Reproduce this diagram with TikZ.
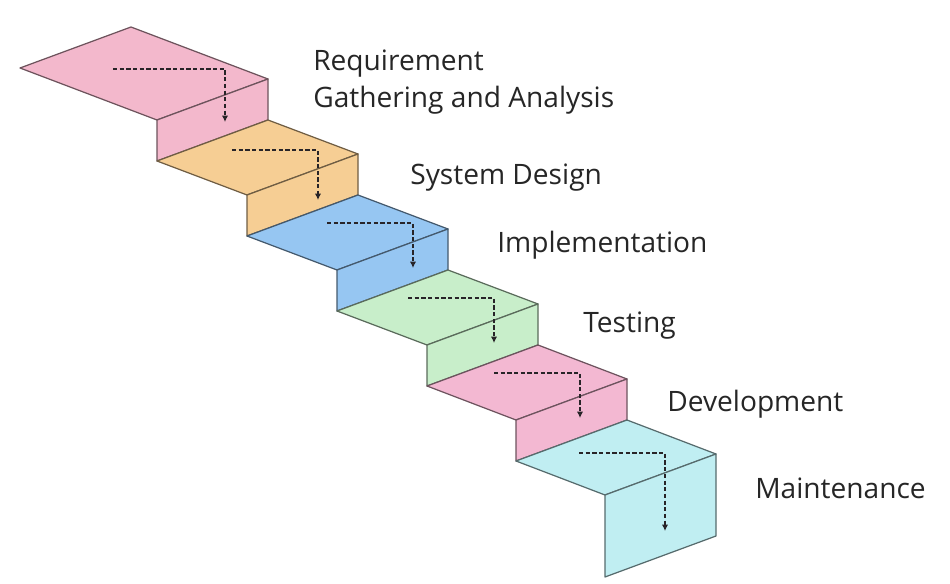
\documentclass[tikz,border=0pt]{standalone}
\usepackage{fontspec}
\setmainfont{Open Sans}
\usetikzlibrary{arrows.meta}

\definecolor{reqpink}{RGB}{243,184,204}
\definecolor{designorange}{RGB}{246,206,148}
\definecolor{implblue}{RGB}{150,198,242}
\definecolor{testgreen}{RGB}{200,238,202}
\definecolor{devpink}{RGB}{243,184,210}
\definecolor{maintcyan}{RGB}{192,238,242}
\definecolor{flowcol}{RGB}{40,36,40}

\tikzset{
  face/.style={fill=#1, draw=#1!45!black, line width=0.7pt, line join=round},
  flow/.style={draw=flowcol, line width=1.1pt, dash pattern=on 2.4pt off 1.4pt,
    -{Latex[length=3.6pt,width=3.6pt]}},
  phase/.style={font=\fontsize{16pt}{21pt}\selectfont, text=black!85, inner sep=0pt, align=left}
}

\begin{document}
\begin{tikzpicture}[x=0.02cm, y=-0.02cm]
\useasboundingbox (0,0) rectangle (950,584);

% steps: tread, then riser
\draw[face=reqpink] (20,68) -- ++(111,-41) -- ++(137,52) -- ++(-111,41) -- cycle;
\draw[face=reqpink] (157,120) -- ++(111,-41) -- ++(0,41) -- ++(-111,41) -- cycle;
\draw[face=designorange] (157,161) -- ++(111,-41) -- ++(90,34) -- ++(-111,41) -- cycle;
\draw[face=designorange] (247,195) -- ++(111,-41) -- ++(0,41) -- ++(-111,41) -- cycle;
\draw[face=implblue] (247,236) -- ++(111,-41) -- ++(90,34) -- ++(-111,41) -- cycle;
\draw[face=implblue] (337,270) -- ++(111,-41) -- ++(0,41) -- ++(-111,41) -- cycle;
\draw[face=testgreen] (337,311) -- ++(111,-41) -- ++(90,34) -- ++(-111,41) -- cycle;
\draw[face=testgreen] (427,345) -- ++(111,-41) -- ++(0,41) -- ++(-111,41) -- cycle;
\draw[face=devpink] (427,386) -- ++(111,-41) -- ++(89,34) -- ++(-111,41) -- cycle;
\draw[face=devpink] (516,420) -- ++(111,-41) -- ++(0,41) -- ++(-111,41) -- cycle;
\draw[face=maintcyan] (516,461) -- ++(111,-41) -- ++(89,34) -- ++(-111,41) -- cycle;
\draw[face=maintcyan] (605,495) -- ++(111,-41) -- ++(0,82) -- ++(-111,41) -- cycle;

% flow inside each step
\coordinate (req in) at (113,69);   \coordinate (req out) at (225,122);
\coordinate (des in) at (232,150);  \coordinate (des out) at (318,200);
\coordinate (imp in) at (327,223);  \coordinate (imp out) at (413,268);
\coordinate (tst in) at (408,298);  \coordinate (tst out) at (494,343);
\coordinate (dev in) at (494,373);  \coordinate (dev out) at (580,418);
\coordinate (mnt in) at (579,453);  \coordinate (mnt out) at (665,531);
\draw[flow] (req in) -| (req out);
\draw[flow] (des in) -| (des out);
\draw[flow] (imp in) -| (imp out);
\draw[flow] (tst in) -| (tst out);
\draw[flow] (dev in) -| (dev out);
\draw[flow] (mnt in) -| (mnt out);

% phase names
\node[phase, anchor=north west] (lreq) at (313,50) {Requirement\\Gathering and Analysis};
\node[phase, anchor=base west] (ldesign) at (410,185) {System Design};
\node[phase, anchor=base west] (limpl) at (497,253) {Implementation};
\node[phase, anchor=base west] (ltest) at (583,333) {Testing};
\node[phase, anchor=base west] (ldev) at (667,411) {Development};
\node[phase, anchor=base west] (lmaint) at (755,498) {Maintenance};
\end{tikzpicture}
\end{document}
